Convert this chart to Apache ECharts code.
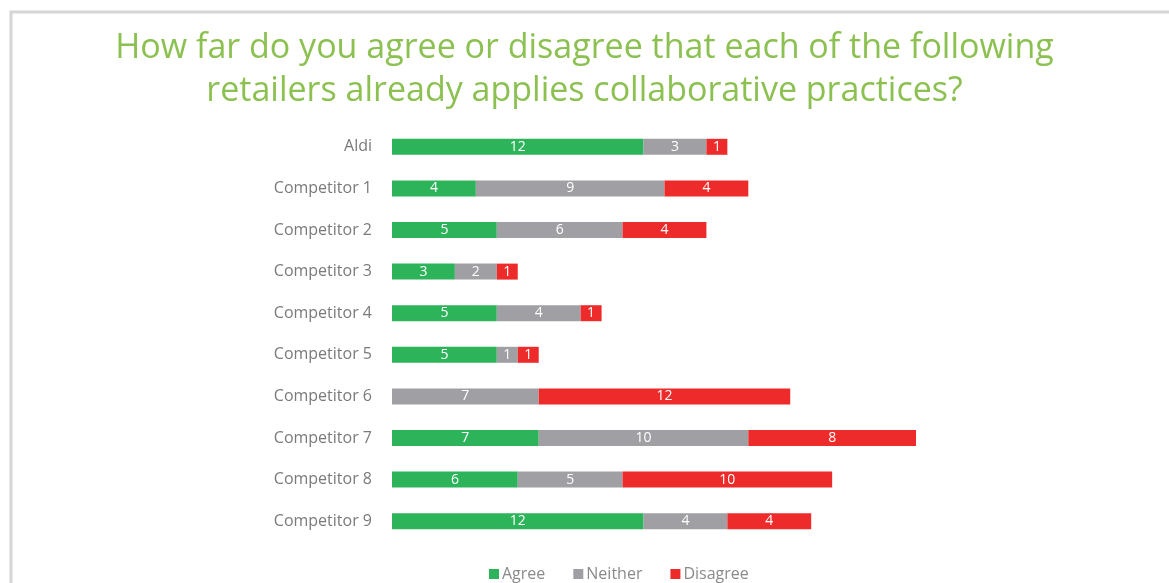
<!DOCTYPE html>
<html><head><meta charset="utf-8">
<script src="https://cdn.jsdelivr.net/npm/echarts@6/dist/echarts.min.js"></script>
<style>html,body{margin:0;padding:0;background:#fff;}#c{width:1169px;height:583px;}</style>
</head><body><div id="c"></div>
<script>
const categories = ['Aldi','Competitor 1','Competitor 2','Competitor 3','Competitor 4','Competitor 5','Competitor 6','Competitor 7','Competitor 8','Competitor 9'];
const agree    = [12, 4, 5, 3, 5, 5, 0, 7, 6, 12];
const neither  = [3, 9, 6, 2, 4, 1, 7, 10, 5, 4];
const disagree = [1, 4, 4, 1, 1, 1, 12, 8, 10, 4];

const chart = echarts.init(document.getElementById('c'));
const lbl = {show:true, color:'#ffffff', fontSize:14, fontFamily:'Open Sans', formatter: p => p.value ? p.value : ''};
function s(name, data, color){
  return {name, type:'bar', stack:'t', data, barWidth:16, itemStyle:{color}, label:lbl, emphasis:{disabled:true}};
}
chart.setOption({
  animation:false,
  title:{text:'How far do you agree or disagree that each of the following\nretailers already applies collaborative practices?',
    left:'center', top:22, textStyle:{color:'#8cc152', fontSize:34, fontWeight:'normal', fontFamily:'Open Sans', lineHeight:43}},
  graphic:[{type:'rect', shape:{x:11, y:12, width:1200, height:620}, style:{fill:'none', stroke:'#d6d6d6', lineWidth:3}}],
  legend:{bottom:-4, left:484, itemWidth:10, itemHeight:10, itemGap:28, icon:'rect',
    textStyle:{color:'#8a8a8a', fontSize:16, fontFamily:'Open Sans', padding:[0,0,0,-2]}},
  grid:{left:392, top:126, width:524, height:416},
  xAxis:{type:'value', min:0, max:25, show:false},
  yAxis:{type:'category', data:categories, inverse:true, axisLine:{show:false}, axisTick:{show:false},
    axisLabel:{color:'#7a7a7a', fontSize:16, fontFamily:'Open Sans', margin:20}},
  series:[s('Agree', agree, '#2db35a'), s('Neither', neither, '#a0a0a4'), s('Disagree', disagree, '#ee2b2b')]
});
</script></body></html>
